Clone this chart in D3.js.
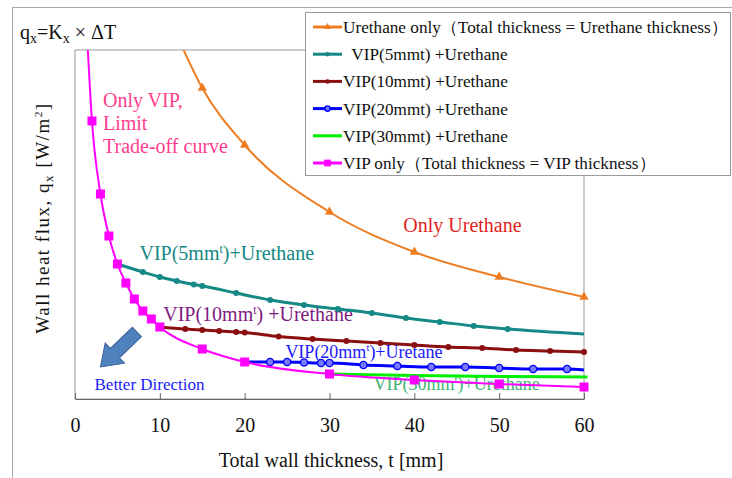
<!DOCTYPE html>
<html>
<head>
<meta charset="utf-8">
<script src="https://cdn.jsdelivr.net/npm/d3@7"></script>
<style>
  body { margin: 0; background: #fff; }
  svg text { font-family: "Liberation Serif", "DejaVu Serif", "Times New Roman", serif; }
</style>
</head>
<body>
<div id="chart"></div>
<script>
// values (heat flux in arbitrary units, no y tick labels)
const urethaneT = [12, 15, 20, 30, 40, 50, 60];
const urethaneQ = [36.5, 31.2, 25.5, 18.8, 14.8, 12.3, 10.3];

const vip5T = [5, 8, 10, 12, 14, 15, 19, 23, 27, 31, 35, 39, 43, 47, 51, 60];
const vip5Q = [13.6, 12.8, 12.3, 11.9, 11.55, 11.4, 10.7, 10.0, 9.5, 9.1, 8.7, 8.2, 7.8, 7.4, 7.1, 6.6];

const vip10T = [10, 13, 15, 17, 19, 20, 24, 28, 32, 36, 40, 44, 48, 52, 56, 60];
const vip10Q = [7.3, 7.1, 7.0, 6.9, 6.8, 6.75, 6.35, 6.1, 5.9, 5.7, 5.5, 5.3, 5.2, 5.0, 4.9, 4.8];

const vip20T = [20, 23, 25, 27, 29, 30, 34, 38, 42, 46, 50, 54, 58, 60];
const vip20Q = [3.8, 3.8, 3.8, 3.75, 3.7, 3.7, 3.5, 3.4, 3.3, 3.3, 3.2, 3.1, 3.1, 3.0];

const vip30T = [30, 40, 50, 60.4];
const vip30Q = [2.6, 2.45, 2.35, 2.3];

const vipOnlyT = [1.5, 2, 3, 4, 5, 6, 7, 8, 9, 10, 15, 20, 30, 40, 50, 60];
const vipOnlyQ = [35.2, 27.9, 20.6, 16.4, 13.6, 11.7, 10.1, 8.9, 8.1, 7.3, 5.1, 3.8, 2.6, 2.0, 1.6, 1.3];

const xTicks = [0, 10, 20, 30, 40, 50, 60];

const legendLabels = [
  "Urethane only（Total thickness = Urethane thickness）",
  "  VIP(5mmt) +Urethane",
  "VIP(10mmt) +Urethane",
  "VIP(20mmt) +Urethane",
  "VIP(30mmt) +Urethane",
  "VIP only（Total thickness = VIP thickness）",
];

// series: which points get a marker is given by [from, to) index range
const series = [
  { t: urethaneT, q: urethaneQ, color: "#ee7d22", width: 2, mark: "triangle", from: 1, to: 7 },
  { t: vip5T, q: vip5Q, color: "#158985", width: 3, mark: "dot", from: 0, to: 15 },
  { t: vip10T, q: vip10Q, color: "#8b0f0f", width: 3, mark: "dot", from: 0, to: 16 },
  { t: vip20T, q: vip20Q, color: "#0000ff", width: 3, mark: "circle", from: 1, to: 13 },
  { t: vip30T, q: vip30Q, color: "#00ee00", width: 3, mark: "none", from: 0, to: 0 },
  { t: vipOnlyT, q: vipOnlyQ, color: "#ff00ff", width: 2, mark: "square", from: 1, to: 16 },
];

const W = 732, H = 478;
const plot = { left: 75, right: 584, top: 50, bottom: 399 };

const svg = d3.select("#chart").append("svg").attr("width", W).attr("height", H);

// outer frame
svg.append("rect")
  .attr("x", 12.5).attr("y", 7.5).attr("width", 800).attr("height", 600)
  .attr("fill", "none").attr("stroke", "#aaa");

const x = d3.scaleLinear().domain([0, 60]).range([plot.left, plot.right]);
const y = d3.scaleLinear().domain([0, 35]).range([400, plot.top]);

// plot border
svg.append("rect")
  .attr("x", plot.left).attr("y", plot.top)
  .attr("width", plot.right - plot.left).attr("height", plot.bottom - plot.top)
  .attr("fill", "none").attr("stroke", "#999");

const xAxis = svg.append("g")
  .attr("transform", `translate(0,${plot.bottom})`)
  .call(d3.axisBottom(x).tickValues(xTicks).tickSizeInner(-6).tickSizeOuter(0).tickPadding(19));
xAxis.select(".domain").attr("stroke", "#666");
xAxis.selectAll(".tick line").attr("stroke", "#666");
xAxis.selectAll("text")
  .attr("font-size", 20).attr("fill", "#111")
  .style("font-family", '"Liberation Serif", "DejaVu Serif", serif');

function rich(sel, parts) {
  parts.forEach((p) => {
    const ts = sel.append("tspan").text(p.t);
    if (p.sub) ts.attr("font-size", "0.7em").attr("dy", 4);
    if (p.sup) ts.attr("font-size", "0.6em").attr("dy", -7);
    if (p.back) ts.attr("dy", p.back);
  });
  return sel;
}

// title formula
rich(
  svg.append("text").attr("x", 20).attr("y", 39).attr("font-size", 20).attr("fill", "#111"),
  [{ t: "q" }, { t: "x", sub: true }, { t: "=K", back: -4 }, { t: "x", sub: true }, { t: " × ΔT", back: -4 }]
);

// axis titles
svg.append("text")
  .attr("x", 331).attr("y", 467)
  .attr("text-anchor", "middle")
  .attr("font-size", 20).attr("fill", "#111")
  .text("Total wall thickness, t [mm]");

rich(
  svg.append("text")
    .attr("transform", "translate(49,218) rotate(-90)")
    .attr("text-anchor", "middle")
    .attr("font-size", 19).attr("fill", "#111")
    .style("letter-spacing", "1.5px"),
  [{ t: "Wall heat flux, q" }, { t: "x", sub: true }, { t: " [W/m", back: -4 }, { t: "2", sup: true }, { t: "]", back: 7 }]
);

// annotations (below the lines)
const notes = svg.append("g");
function note(t, q, parts, color, size) {
  return rich(
    notes.append("text").attr("x", x(t)).attr("y", y(q)).attr("fill", color).attr("font-size", size || 20),
    parts
  );
}
["Only VIP,", "Limit", "Trade-off curve"].forEach((s, i) =>
  note(3.3, 29.3 - i * 2.3, [{ t: s }], "#ff3c8e", 20)
);
note(38.7, 16.8, [{ t: "Only Urethane" }], "#e01f22", 20);
note(7.6, 14.0, [{ t: "VIP(5mm" }, { t: "t", sup: true }, { t: ")+Urethane", back: 7 }], "#138783", 20);
note(10.4, 7.9, [{ t: "VIP(10mm" }, { t: "t", sup: true }, { t: ") +Urethane", back: 7 }], "#7f1a7f", 20);
note(24.8, 4.2, [{ t: "VIP(20mm" }, { t: "t", sup: true }, { t: ")+Uretane", back: 7 }], "#1a1aff", 18);
note(35.2, 1.0, [{ t: "VIP(30mm" }, { t: "t", sup: true }, { t: ")+Urethane", back: 7 }], "#3cb371", 18);
note(2.3, 1.0, [{ t: "Better Direction" }], "#1a1aff", 17);

// block arrow pointing to the better (lower-left) corner
const tail = [x(7.3), y(6.8)], tip = [x(3.0), y(3.3)];
const len = Math.hypot(tip[0] - tail[0], tip[1] - tail[1]);
const ang = (Math.atan2(tip[1] - tail[1], tip[0] - tail[0]) * 180) / Math.PI;
const hl = 20, sw = 6.5, hw = 14;
svg.append("path")
  .attr("transform", `translate(${tail[0]},${tail[1]}) rotate(${ang})`)
  .attr("d", `M0,${-sw}L${len - hl},${-sw}L${len - hl},${-hw}L${len},0L${len - hl},${hw}L${len - hl},${sw}L0,${sw}Z`)
  .attr("fill", "#4f81bd").attr("stroke", "#3a639a").attr("stroke-width", 1);

// data lines
svg.append("clipPath").attr("id", "clip")
  .append("rect").attr("x", plot.left).attr("y", plot.top)
  .attr("width", plot.right - plot.left + 6).attr("height", plot.bottom - plot.top);

const line = d3.line().x((d) => x(d[0])).y((d) => y(d[1])).curve(d3.curveMonotoneX);
const gLines = svg.append("g").attr("clip-path", "url(#clip)");

function drawMark(g, type, color, cx, cy, scale) {
  const s = scale || 1;
  if (type === "triangle") {
    g.append("path")
      .attr("d", d3.symbol(d3.symbolTriangle, 38 * s * s)())
      .attr("transform", `translate(${cx},${cy})`)
      .attr("fill", color);
  } else if (type === "square") {
    const a = 9 * s;
    g.append("rect").attr("x", cx - a / 2).attr("y", cy - a / 2)
      .attr("width", a).attr("height", a).attr("fill", color);
  } else if (type === "dot") {
    g.append("circle").attr("cx", cx).attr("cy", cy).attr("r", 3 * s).attr("fill", color);
  } else if (type === "circle") {
    g.append("circle").attr("cx", cx).attr("cy", cy).attr("r", 3.6 * s)
      .attr("fill", "#7a7aff").attr("stroke", color).attr("stroke-width", 1.4);
  }
}

series.forEach((s) => {
  const pts = s.t.map((t, i) => [t, s.q[i]]);
  gLines.append("path")
    .datum(pts)
    .attr("fill", "none")
    .attr("stroke", s.color)
    .attr("stroke-width", s.width)
    .attr("d", line);
  pts.slice(s.from, s.to).forEach((p) => drawMark(gLines, s.mark, s.color, x(p[0]), y(p[1])));
});

// legend
const legend = svg.append("g").attr("transform", "translate(305,12)");
legend.append("rect")
  .attr("x", 0.5).attr("y", 0.5).attr("width", 425).attr("height", 163)
  .attr("fill", "#fff").attr("stroke", "#999");
legendLabels.forEach((lab, i) => {
  const s = series[i];
  const cy = 15 + i * 27.2;
  const row = legend.append("g");
  row.append("line")
    .attr("x1", 8).attr("x2", 37).attr("y1", cy).attr("y2", cy)
    .attr("stroke", s.color).attr("stroke-width", 3);
  drawMark(row, s.mark, s.color, 22.5, cy, 0.75);
  row.append("text")
    .attr("x", 38).attr("y", cy + 6)
    .attr("font-size", 17.2).attr("fill", "#111")
    .style("white-space", "pre")
    .text(lab);
});
</script>
</body>
</html>
